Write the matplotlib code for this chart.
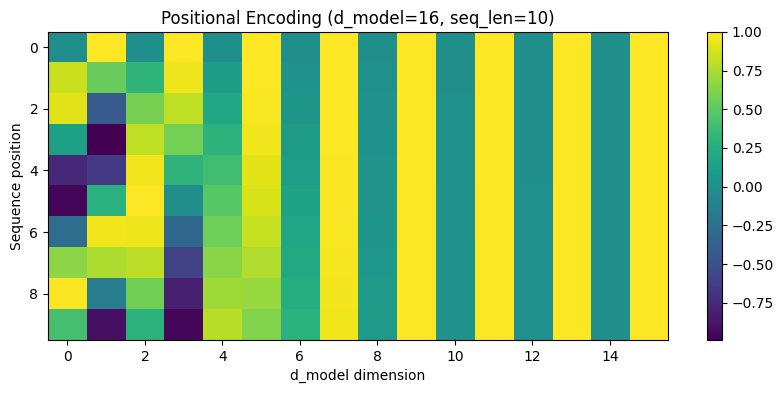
import numpy as np
import matplotlib
matplotlib.use("Agg")
import matplotlib.pyplot as plt

positions = list(range(10))
dimensions = list(range(16))

# Encoding values per sequence position (rows), per d_model dimension (columns)
pos0 = [0.0, 1.0, 0.0, 1.0, 0.0, 1.0, 0.0, 1.0, 0.0, 1.0, 0.0, 1.0, 0.0, 1.0, 0.0, 1.0]
pos1 = [0.8415, 0.5403, 0.3110, 0.9504, 0.0998, 0.9950, 0.0316, 0.9995, 0.0100, 1.0, 0.0032, 1.0, 0.0010, 1.0, 0.0003, 1.0]
pos2 = [0.9093, -0.4161, 0.5911, 0.8066, 0.1987, 0.9801, 0.0632, 0.9980, 0.0200, 0.9998, 0.0063, 1.0, 0.0020, 1.0, 0.0006, 1.0]
pos3 = [0.1411, -0.9900, 0.8127, 0.5827, 0.2955, 0.9553, 0.0947, 0.9955, 0.0300, 0.9996, 0.0095, 1.0, 0.0030, 1.0, 0.0009, 1.0]
pos4 = [-0.7568, -0.6536, 0.9536, 0.3012, 0.3894, 0.9211, 0.1262, 0.9920, 0.0400, 0.9992, 0.0126, 0.9999, 0.0040, 1.0, 0.0013, 1.0]
pos5 = [-0.9589, 0.2837, 1.0000, -0.0103, 0.4794, 0.8776, 0.1575, 0.9875, 0.0500, 0.9988, 0.0158, 0.9999, 0.0050, 1.0, 0.0016, 1.0]
pos6 = [-0.2794, 0.9602, 0.9474, -0.3212, 0.5646, 0.8253, 0.1886, 0.9821, 0.0600, 0.9982, 0.0190, 0.9998, 0.0060, 1.0, 0.0019, 1.0]
pos7 = [0.6570, 0.7539, 0.8006, -0.5992, 0.6442, 0.7648, 0.2196, 0.9756, 0.0699, 0.9976, 0.0221, 0.9998, 0.0070, 1.0, 0.0022, 1.0]
pos8 = [0.9894, -0.1455, 0.5742, -0.8187, 0.7174, 0.6967, 0.2503, 0.9682, 0.0799, 0.9968, 0.0253, 0.9997, 0.0080, 1.0, 0.0025, 1.0]
pos9 = [0.4121, -0.9111, 0.2912, -0.9567, 0.7833, 0.6216, 0.2808, 0.9598, 0.0899, 0.9960, 0.0285, 0.9996, 0.0090, 1.0, 0.0028, 1.0]

cbar_ticks = [-0.75, -0.50, -0.25, 0.00, 0.25, 0.50, 0.75, 1.00]

data = np.array([pos0, pos1, pos2, pos3, pos4, pos5, pos6, pos7, pos8, pos9])

fig = plt.figure(figsize=(7.84, 3.93), dpi=100)
ax = fig.add_axes([0.0612, 0.135, 0.791, 0.784])
cax = fig.add_axes([0.9018, 0.135, 0.0191, 0.784])

im = ax.imshow(data, cmap="viridis", aspect="auto")
ax.set_title("Positional Encoding (d_model=16, seq_len=10)")
ax.set_xlabel("d_model dimension")
ax.set_ylabel("Sequence position")

cb = fig.colorbar(im, cax=cax)
cb.set_ticks(cbar_ticks)
cb.ax.set_yticklabels([f"{t:.2f}".replace("-", "\u2212") for t in cbar_ticks])

fig.savefig("out.png", dpi=100)
